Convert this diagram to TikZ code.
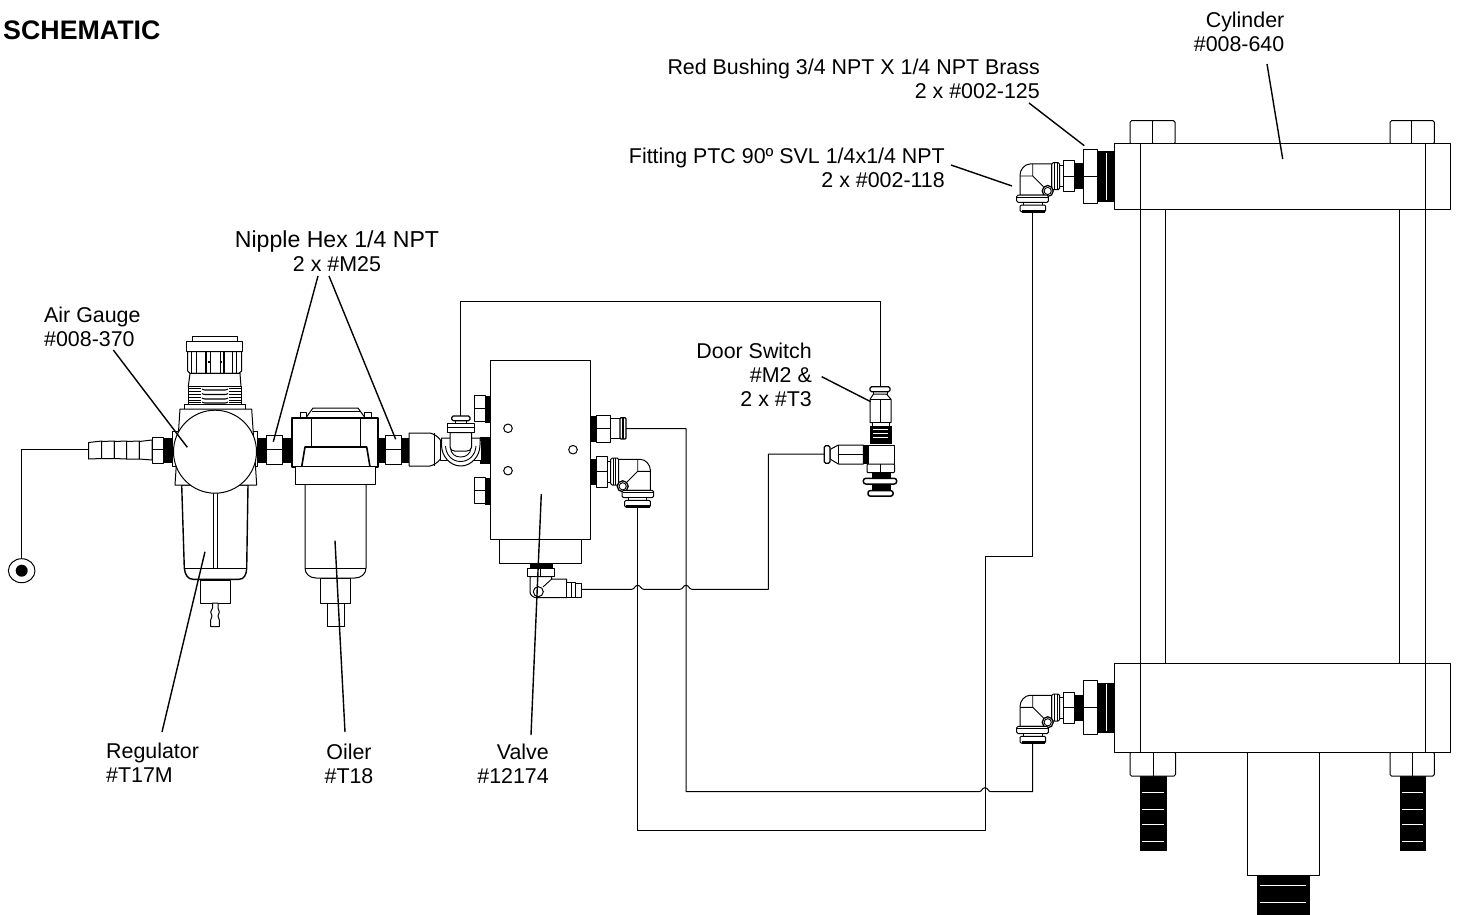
\documentclass[tikz,border=0pt]{standalone}
\usepackage{fontspec}
\setmainfont{Liberation Sans}
\tikzset{
  part/.style={draw=black,fill=white,line width=1pt,line join=round},
  thick part/.style={part,line width=1.6pt},
  ln/.style={draw=black,line width=.9pt},
  blk/.style={draw=black,fill=black,line width=.4pt},
  wht/.style={draw=white,line width=.45pt},
  wire/.style={draw=black,line width=1pt,line join=round},
  leader/.style={draw=black,line width=1.4pt},
  lbl/.style={inner sep=0pt,font=\fontsize{21.4}{24}\selectfont},
  elbow/.pic={
    \path[blk] (41,-49) rectangle (47.4,-24);
    \path[part] (27,-47) rectangle (30.7,-26);
    \path[part] (30.7,-51.7) rectangle (41.3,-21);
    \path[ln] (30.7,-36.7) -- (41.3,-36.7);
    \path[part,rounded corners=1.5pt] (19,-50) rectangle (27,-23);
    \path[ln] (21.8,-50) -- (21.8,-23) (24.4,-50) -- (24.4,-23);
    \path[part] (19,-48.7) -- (-2.7,-48.7) .. controls (-8,-48.7) and (-12.7,-43) .. (-12.7,-37.7) -- (-12.7,-17.7) -- (12,-17.7) -- (19,-24) -- cycle;
    \path[ln] (0,-48.7) -- (0,-36.7) -- (-12.7,-36.7) (0,-36.7) -- (10.7,-26);
    \path[part,line width=1.3pt] (15,-21.7) circle[radius=5.5];
    \path[ln] (15,-21.7) circle[radius=3.6];
    \path[part,rounded corners=1.5pt] (-16,-17.7) rectangle (15.7,-10.3);
    \path[ln] (-15.5,-15.2) -- (15.2,-15.2);
    \path[part] (-9,-10.3) rectangle (9.7,-7.7);
    \path[part,rounded corners=1.2pt] (-12.7,-7.7) rectangle (13,-1);
    \path[blk] (-11,-2.6) rectangle (11.5,-1);
  },
  bushing/.pic={
    \path[blk] (41.3,-49) rectangle (50.7,-24);
    \path[blk] (64.7,-61) rectangle (81.3,-11.7);
    \path[wht] (73.5,-60) -- (73.5,-13);
    \path[part] (50.7,-63.3) rectangle (64.7,-9.3);
    \path[ln] (50.7,-36.7) -- (64.7,-36.7);
  },
}
\newcommand{\nutshape}[5]{%
  \path[part,rounded corners=1.5pt] (#1,#4) rectangle (#3,#5);
  \path[ln] (#2,#4) -- (#2,#5);}
\begin{document}
\begin{tikzpicture}[x=1pt,y=-1pt]
\useasboundingbox (0,0) rectangle (1457,915);
\path[fill=white] (0,0) rectangle (1457,915);

% ---- named points
\coordinate (grip) at (21.7,558.5);
\coordinate (gripCorner) at (21.7,449.3);
\coordinate (barbEnd) at (88.7,449.3);
\coordinate (teeTop) at (460.7,416);
\coordinate (teeCornerA) at (460.7,301);
\coordinate (teeCornerB) at (880.3,301);
\coordinate (switchTop) at (880.3,386.7);
\coordinate (switchSide) at (824.3,454);
\coordinate (swCornerA) at (768.3,454);
\coordinate (swCornerB) at (768.3,589.3);
\coordinate (valveLow) at (581.7,589.3);
\coordinate (valveStraight) at (626,428.7);
\coordinate (vsCorner) at (686,428.7);
\coordinate (vsCornerB) at (686,791.7);
\coordinate (valveElbow) at (637.7,508);
\coordinate (veCorner) at (637.7,830.7);
\coordinate (veCornerB) at (985,830.7);
\coordinate (veCornerC) at (985,556.7);
\coordinate (veCornerD) at (1032.7,556.7);
\coordinate (topElbow) at (1032.7,212.7);
\coordinate (botElbow) at (1032.7,744);
\coordinate (botCorner) at (1032.7,791.7);

% ---- pipes
\path[wire] (barbEnd) -- (gripCorner) -- (grip);
\path[wire] (teeTop) -- (teeCornerA) -- (teeCornerB) -- (switchTop);
\path[wire] (switchSide) -- (swCornerA) -- (swCornerB) -- (692,589.3)
  .. controls (689,589.3) and (689,585.3) .. (686,585.3)
  .. controls (683,585.3) and (683,589.3) .. (680,589.3) -- (643.7,589.3)
  .. controls (640.7,589.3) and (640.7,585.3) .. (637.7,585.3)
  .. controls (634.7,585.3) and (634.7,589.3) .. (631.7,589.3) -- (valveLow);
\path[wire] (valveStraight) -- (vsCorner) -- (vsCornerB) -- (979,791.7)
  .. controls (982,791.7) and (982,787.7) .. (985,787.7)
  .. controls (988,787.7) and (988,791.7) .. (991,791.7) -- (botCorner) -- (botElbow);
\path[wire] (valveElbow) -- (veCorner) -- (veCornerB) -- (veCornerC) -- (veCornerD) -- (topElbow);

% ---- grip
\path[part] (21.7,570.7) ellipse[x radius=13.3,y radius=12];
\path[fill=black] (21.7,570.7) circle[radius=6];

% ---- barb
\path[part] (88.7,442.5) -- (101.7,441) -- (101.7,458.5) -- (88.7,459) -- cycle;
\path[part] (101.7,441.5) -- (114.3,441) -- (114.3,458.5) -- (101.7,458.5) -- cycle;
\path[part] (114.3,441.5) -- (126.7,441) -- (126.7,459) -- (114.3,458.5) -- cycle;
\path[part] (126.7,441.5) -- (139.3,441) -- (139.3,459) -- (126.7,459) -- cycle;
\path[part] (139.3,441.5) -- (152,440) -- (152,460) -- (139.3,459) -- cycle;
\path[part] (152,437) rectangle (163,463);
\path[ln] (152,449) -- (163,449);
\path[blk] (163,438) rectangle (173,462);

% ---- regulator top
\path[part] (192.3,336) rectangle (237.7,341);
\path[part] (186.7,341) rectangle (242.7,351.7);
\path[part] (187.7,351.7) -- (241.7,351.7) -- (241.7,371) -- (239,373.3) -- (190,373.3) -- (187.7,371) -- cycle;
\foreach \k in {191.7,196.7,205.7,210,220,224.3,232.3,236.7}{\path[ln] (\k,351.7) -- (\k,373.3);}
\path[ln,line width=1.3pt] (206,352) -- (206,373) (224,352) -- (224,373) (208,362) -- (210,362) (220,362) -- (222,362);
\path[part] (190,373.3) -- (188.3,386.7) -- (241,386.7) -- (240,373.3) -- cycle;
\path[part] (188.3,386.7) rectangle (241,404);
\foreach \k in {388.5,391.5,394.5,397.5,400.5,402.8}{
  \path[draw=black,line width=1.2pt] (188.3,\k) -- (201,\k) (229,\k) -- (241,\k);}
\foreach \k in {390,394.5,399,403}{
  \path[draw=black,line width=1.1pt,rounded corners=1pt] (202,\k-1) -- (204,\k) -- (226,\k) -- (228,\k-1);}
\path[part] (184.3,404) rectangle (245.7,409);

% ---- regulator bowl
\path[part,line width=1.4pt] (181.7,485) -- (184.3,568) .. controls (185,575) and (188,579.3) .. (193,579.3) -- (239,579.3) .. controls (244,579.3) and (246.5,575) .. (246.7,568) -- (248,485) -- cycle;
\path[ln] (184.3,568) -- (246.7,568);
\path[part] (213.3,488) rectangle (217,568);
\path[part] (200.7,580) rectangle (230,603);
\path[part] (212.5,603) -- (218,603) -- (218,608) -- (219.3,612) -- (218,616) -- (219.3,620) -- (219.3,626.5) -- (210.7,626.5) -- (210.7,620) -- (212,616) -- (210.7,612) -- (212.5,608) -- cycle;

% ---- regulator head
\path[part] (172.7,431.7) rectangle (180,466.7);
\path[part] (250,431.7) rectangle (257.3,466.7);
\path[part] (180,409) -- (251.7,409) -- (256.7,485) -- (175,485) -- cycle;
\path[part] (215,451.7) circle[radius=41.5];

% ---- nipples
\path[blk] (257.3,438) rectangle (292,462);
\path[part] (266.7,435.7) rectangle (282.3,464.3);
\path[ln] (266.7,449.7) -- (282.3,449.7);
\path[blk] (378,438) rectangle (409,462);
\path[part] (385.7,435) rectangle (401,464);
\path[ln] (385.7,449.7) -- (401,449.7);

% ---- oiler
\path[part] (320.7,578) rectangle (350,603);
\path[part] (327,603) rectangle (344,626);
\path[part] (305,484) -- (305,568) .. controls (305,574) and (310,578) .. (316,578) -- (355,578) .. controls (361,578) and (366,574) .. (366,568) -- (366,484) -- cycle;
\path[ln] (305,568) -- (366,568);
\path[part] (300,412) rectangle (306.7,417.7);
\path[part] (364,412) rectangle (371.7,417.7);
\path[part] (306,417.7) -- (313,408) -- (358,408) -- (365,417.7) -- cycle;
\path[ln] (311.5,411) -- (359.5,411);
\path[thick part] (292,417.7) rectangle (378,466.7);
\path[ln] (311.7,417.7) -- (311.7,447) (360,417.7) -- (360,447);
\path[part,line width=1.6pt] (301.7,466.7) -- (305,447) -- (366.7,447) -- (370,466.7);
\path[part,line width=1.4pt] (295.7,466.7) rectangle (375.7,484.3);

% ---- tee fitting
\path[part] (409,433) -- (430,433) .. controls (438,435) and (443,442) .. (445,449) .. controls (443,457) and (438,464) .. (430,466) -- (409,466) -- cycle;
\path[ln] (434.7,433) -- (434.7,466);
\path[blk] (480,437) rectangle (490.3,462.7);
\path[part] (440,440) rectangle (481,460);
\path[part] (441.5,445) .. controls (441.5,456) and (450,466) .. (460.7,466) .. controls (471.5,466) and (480,456) .. (480,445) -- (480,438) -- (441.5,438) -- cycle;
\path[ln] (445.5,446) .. controls (446,455) and (452,461.5) .. (460.7,461.5) .. controls (469,461.5) and (475.5,455) .. (476,446);
\path[ln] (450.5,448) .. controls (451,454) and (455,457) .. (460.7,457) .. controls (466,457) and (470.5,454) .. (471,448);
\path[part] (450,432.7) -- (471.7,432.7) -- (471.7,447) .. controls (471,450) and (469,451) .. (467,451) -- (454.5,451) .. controls (452,451) and (450.5,450) .. (450,447) -- cycle;
\path[part] (447.7,423.3) rectangle (474,432.7);
\path[ln] (448,427) -- (473.7,427);
\path[part] (455,420.7) rectangle (466.7,423.3);
\path[part,rounded corners=1.5pt,line width=1.3pt] (451.7,416) rectangle (470,420.7);

% ---- valve
\path[part] (499.7,539) rectangle (581.3,563);
\path[blk] (485,395.7) rectangle (490.3,421.7);
\path[part] (474.3,395.7) rectangle (485,421.7);
\path[ln] (474.3,408.7) -- (485,408.7);
\path[blk] (485,477.7) rectangle (490.3,503.7);
\path[part] (474.3,477.7) rectangle (485,503.7);
\path[ln] (474.3,490.7) -- (485,490.7);
\path[part] (490.3,360) rectangle (590.3,539.3);
\path[part] (508,428.3) circle[radius=4.3];
\path[part] (508,470.7) circle[radius=4.3];
\path[part] (573,449.7) circle[radius=4.3];

% ---- valve straight fitting
\path[blk] (590.3,416) rectangle (596,441);
\path[part] (596,415) rectangle (610,442);
\path[ln] (596,428.7) -- (610,428.7);
\path[part] (610,418.5) rectangle (620,438.5);
\path[part,line width=1.3pt,rounded corners=1pt] (620,417.7) rectangle (626,439);
\path[draw=black,line width=1.2pt] (623,418) -- (623,439);

% ---- valve elbow, cylinder elbows
\path pic[xscale=-1] at (valveElbow) {elbow};
\path pic at (topElbow) {elbow};
\path pic at (topElbow) {bushing};
\path pic at (botElbow) {elbow};
\path pic at (botElbow) {bushing};

% ---- valve low elbow
\path[blk] (530,563.3) rectangle (551.7,568.3);
\path[part] (530,576.7) -- (530,591.7) .. controls (530,595) and (533,597.7) .. (536.7,597.7) -- (566.7,597.7) -- (566.7,579) -- (551.7,579) -- (551.7,576.7) -- cycle;
\path[ln] (551.7,579) -- (543,587);
\path[part] (527.3,568.3) rectangle (554,576.7);
\path[ln] (540,568.3) -- (540,576.7);
\path[part] (538.3,591.7) circle[radius=5];
\path[part] (566.7,582) rectangle (575,597);
\path[part] (575,583) rectangle (581.7,597);
\path[ln] (571,582) -- (571,597);

% ---- door switch
\path[part] (873,391.7) rectangle (887,398);
\path[part,rounded corners=1.5pt,line width=1.3pt] (870,386.7) rectangle (890,391.7);
\path[part] (873.5,394) -- (886.5,394) -- (891,399.3) -- (891,422.7) -- (870,422.7) -- (870,399.3) -- cycle;
\path[ln] (870,399.3) -- (891,399.3) (880.3,399.3) -- (880.3,422.7);
\path[part] (872,422.7) rectangle (889,426);
\path[blk] (870,426) rectangle (891,443.3);
\foreach \k in {429.5,433.5,437.5}{\path[wht] (873,\k) -- (888,\k);}
\path[part] (867.7,445) rectangle (894.3,464);
\path[part,rounded corners=1pt] (867,464) rectangle (894.5,472.7);
\path[ln] (880.3,464) -- (880.3,472.7);
\path[blk] (871.7,472.7) rectangle (890,490.7);
\path[part,rounded corners=2.5pt,line width=1.5pt] (863.3,478.3) rectangle (896.7,484);
\path[part,rounded corners=2pt,line width=1.5pt] (868,490.7) rectangle (893,496);
\path[part] (830,449.5) -- (838.3,445) -- (863.3,445) -- (863.3,464) -- (838.3,464) -- (830,459) -- cycle;
\path[ln] (838.3,454) -- (863.3,454) (838.3,445) -- (838.3,464);
\path[blk] (863.3,445.5) rectangle (867.7,463.5);
\path[part,rounded corners=1.5pt,line width=1.3pt] (824.3,445.7) rectangle (830,463.3);

% ---- cylinder
\path[part] (1247.3,752) rectangle (1319,875.7);
\path[blk] (1257,875.7) rectangle (1309,915);
\foreach \k in {885.7,902.3}{\path[wht] (1260,\k) -- (1306,\k);}
\path[blk] (1140,776) rectangle (1166,850);
\path[blk] (1399.7,776) rectangle (1425.3,850);
\foreach \k in {792.7,809.3,824.3,841.7}{\path[wht] (1142,\k) -- (1164,\k) (1402,\k) -- (1423,\k);}
\nutshape{1130}{1152.3}{1175}{120.7}{144}
\nutshape{1390}{1411.7}{1434.3}{120.7}{144}
\nutshape{1130}{1153}{1175.5}{752}{776}
\nutshape{1390}{1412}{1434.3}{752}{776}
\path[part] (1114,144) rectangle (1450.7,209);
\path[part] (1114,663.3) rectangle (1450.7,752.3);
\path[ln] (1140,144) -- (1140,752.3) (1425,144) -- (1425,752.3);
\path[ln] (1165.7,209) -- (1165.7,663.3) (1399.7,209) -- (1399.7,663.3);

% ---- labels
\node[lbl,anchor=north west,font=\fontsize{26.8}{30}\selectfont\bfseries] (title) at (3,21) {SCHEMATIC};
\node[lbl,anchor=north east,align=right] (lblCyl) at (1284.5,11.5) {Cylinder\\\#008-640};
\node[lbl,anchor=north east,align=right] (lblBush) at (1040,58.5) {Red Bushing 3/4 NPT X 1/4 NPT Brass\\2 x \#002-125};
\node[lbl,anchor=north east,align=right] (lblFit) at (945,147.5) {Fitting PTC 90º SVL 1/4x1/4 NPT\\2 x \#002-118};
\node[lbl,anchor=north,align=center] (lblNip) at (337,230.2) {{\fontsize{23.1}{24}\selectfont Nipple Hex 1/4 NPT}\\2 x \#M25};
\node[lbl,anchor=north west,align=left] (lblGauge) at (44,306.5) {Air Gauge\\\#008-370};
\node[lbl,anchor=north east,align=right] (lblDoor) at (812,342.5) {Door Switch\\\#M2 \&\\2 x \#T3};
\node[lbl,anchor=north west,align=left] (lblReg) at (106,742.5) {Regulator\\\#T17M};
\node[lbl,anchor=north,align=center] (lblOil) at (349,743.5) {Oiler\\\#T18};
\node[lbl,anchor=north east,align=right] (lblVal) at (549,743.5) {Valve\\\#12174};

% ---- leaders
\coordinate (tipGauge) at (187.3,447.3);
\coordinate (tipNipL) at (273.3,441.7);
\coordinate (tipNipR) at (395.7,439.3);
\coordinate (tipReg) at (205,551.7);
\coordinate (tipOil) at (335,540.7);
\coordinate (tipVal) at (541.3,494);
\coordinate (tipDoor) at (870.7,401.7);
\coordinate (tipFit) at (1012,186);
\coordinate (tipBush) at (1084.3,145.7);
\coordinate (tipCyl) at (1282.7,159);
\path[leader] (113.3,350) -- (tipGauge);
\path[leader] (318,276) -- (tipNipL);
\path[leader] (329,276) -- (tipNipR);
\path[leader] (162,732) -- (tipReg);
\path[leader] (345,732) -- (tipOil);
\path[leader] (531,735) -- (tipVal);
\path[leader] (821.7,376.7) -- (tipDoor);
\path[leader] (951,165) -- (tipFit);
\path[leader] (1029,103) -- (tipBush);
\path[leader] (1267,64) -- (tipCyl);
\end{tikzpicture}
\end{document}
